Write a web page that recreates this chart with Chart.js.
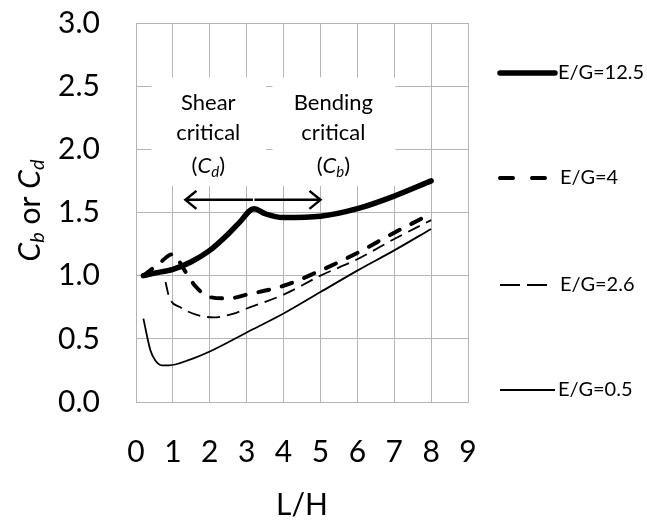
<!DOCTYPE html>
<html>
<head>
<meta charset="utf-8">
<script src="https://cdn.jsdelivr.net/npm/chart.js@4"></script>
<style>
  html, body { margin: 0; padding: 0; background: #fff; }
  #wrap { width: 647px; height: 522px; }
</style>
</head>
<body>
<div id="wrap"><canvas id="myChart" width="647" height="522"></canvas></div>
<script>
// L/H and C values, one pair of arrays per curve
var eg125X = [0.2, 0.5, 1.0, 1.5, 2.0, 2.5, 2.8, 3.2, 3.5, 4.0, 5.0, 6.0, 7.0, 8.0];
var eg125Y = [1.0, 1.02, 1.05, 1.11, 1.2, 1.33, 1.42, 1.53, 1.49, 1.46, 1.47, 1.53, 1.63, 1.75];
var eg4X = [0.2, 0.6, 1.0, 1.3, 1.6, 2.0, 2.5, 3.0, 4.0, 5.0, 6.0, 7.0, 8.0];
var eg4Y = [1.0, 1.09, 1.17, 1.05, 0.92, 0.83, 0.82, 0.85, 0.92, 1.04, 1.18, 1.34, 1.49];
var eg26X = [0.8, 0.9, 1.2, 1.65, 2.1, 2.65, 3.0, 4.0, 5.0, 6.0, 7.0, 8.0];
var eg26Y = [0.95, 0.83, 0.75, 0.69, 0.67, 0.70, 0.74, 0.85, 1.0, 1.13, 1.29, 1.44];
var eg05X = [0.2, 0.39, 0.52, 0.7, 0.9, 1.5, 2.0, 3.0, 4.0, 5.0, 6.0, 7.0, 8.0];
var eg05Y = [0.66, 0.41, 0.33, 0.29, 0.29, 0.34, 0.40, 0.55, 0.70, 0.87, 1.04, 1.20, 1.37];

var seriesNames = ['E/G=12.5', 'E/G=4', 'E/G=2.6', 'E/G=0.5'];
var xTicks = [0, 1, 2, 3, 4, 5, 6, 7, 8, 9];
var yTicks = [0, 0.5, 1.0, 1.5, 2.0, 2.5, 3.0];

var FONT = 'Lato, "Open Sans", sans-serif';

function pts(xs, ys) {
  return xs.map(function (x, i) { return { x: x, y: ys[i] }; });
}

// white boxes behind the two notes, then the text itself
var notesPlugin = {
  id: 'notes',
  beforeDatasetsDraw: function (chart) {
    var c = chart.ctx, sx = chart.scales.x, sy = chart.scales.y;
    c.save();
    c.fillStyle = '#fff';
    [[0.42, 3.53], [3.7, 7.03]].forEach(function (b) {
      var x0 = sx.getPixelForValue(b[0]), x1 = sx.getPixelForValue(b[1]);
      var y0 = sy.getPixelForValue(2.57), y1 = sy.getPixelForValue(1.71);
      c.fillRect(x0, y0, x1 - x0, y1 - y0);
    });
    c.fillStyle = '#000';
    c.textAlign = 'center';
    c.textBaseline = 'middle';
    var notes = [
      { x: 1.96, top: 'Shear', sub: 'd' },
      { x: 5.35, top: 'Bending', sub: 'b' }
    ];
    notes.forEach(function (n) {
      var px = sx.getPixelForValue(n.x);
      c.font = '22px ' + FONT;
      c.fillText(n.top, px, sy.getPixelForValue(2.37));
      c.fillText('critical', px, sy.getPixelForValue(2.13));
      drawCSub(c, px, sy.getPixelForValue(1.87), 22, n.sub, true);
    });
    c.restore();
  },
  afterDatasetsDraw: function (chart) {
    var c = chart.ctx, sx = chart.scales.x, sy = chart.scales.y;
    var ay = sy.getPixelForValue(1.6);
    c.save();
    c.strokeStyle = '#000';
    c.lineWidth = 2.5;
    arrow(c, sx.getPixelForValue(3.17), sx.getPixelForValue(1.34), ay);
    arrow(c, sx.getPixelForValue(3.21), sx.getPixelForValue(5.0), ay);
    c.restore();
  }
};

function arrow(c, from, to, y) {
  var d = to > from ? 1 : -1;
  c.beginPath();
  c.moveTo(from, y);
  c.lineTo(to, y);
  c.moveTo(to - d * 11, y - 9);
  c.lineTo(to, y);
  c.lineTo(to - d * 11, y + 9);
  c.stroke();
}

// draws "(C_sub)" centred on cx
function drawCSub(c, cx, cy, size, sub, paren) {
  var parts = [];
  if (paren) parts.push({ t: '(', f: size + 'px ' + FONT, dy: 0 });
  parts.push({ t: 'C', f: 'italic ' + size + 'px ' + FONT, dy: 0 });
  parts.push({ t: sub, f: 'italic ' + Math.round(size * 0.66) + 'px ' + FONT, dy: size * 0.28 });
  if (paren) parts.push({ t: ')', f: size + 'px ' + FONT, dy: 0 });
  var w = 0;
  parts.forEach(function (p) { c.font = p.f; p.w = c.measureText(p.t).width; w += p.w; });
  var x = cx - w / 2;
  c.textAlign = 'left';
  parts.forEach(function (p) { c.font = p.f; c.fillText(p.t, x, cy + p.dy); x += p.w; });
  c.textAlign = 'center';
}

// y title with subscripts, rotated
var yTitlePlugin = {
  id: 'ytitle',
  afterDraw: function (chart) {
    var c = chart.ctx, size = 30;
    var a = chart.chartArea;
    var parts = [
      { t: 'C', f: 'italic ' + size + 'px ' + FONT, dy: 0 },
      { t: 'b', f: 'italic 20px ' + FONT, dy: 8 },
      { t: ' or ', f: size + 'px ' + FONT, dy: 0 },
      { t: 'C', f: 'italic ' + size + 'px ' + FONT, dy: 0 },
      { t: 'd', f: 'italic 20px ' + FONT, dy: 8 }
    ];
    c.save();
    c.translate(30, (a.top + a.bottom) / 2 - 2);
    c.rotate(-Math.PI / 2);
    c.fillStyle = '#000';
    c.textBaseline = 'middle';
    c.textAlign = 'left';
    var w = 0;
    parts.forEach(function (p) { c.font = p.f; p.w = c.measureText(p.t).width; w += p.w; });
    var x = -w / 2;
    parts.forEach(function (p) { c.font = p.f; c.fillText(p.t, x, p.dy); x += p.w; });
    c.restore();
  }
};

// legend on the right, one entry per dataset, spread down the side
var legendPlugin = {
  id: 'sideLegend',
  afterDraw: function (chart) {
    var c = chart.ctx;
    var rows = [73, 178, 285, 390];
    c.save();
    chart.data.datasets.forEach(function (ds, i) {
      var y = rows[i];
      c.strokeStyle = ds.borderColor;
      c.lineWidth = ds.borderWidth;
      c.lineCap = ds.borderCapStyle || 'butt';
      c.setLineDash(ds.legendDash || []);
      c.beginPath();
      c.moveTo(ds.legendStart, y);
      c.lineTo(ds.legendEnd, y);
      c.stroke();
      c.setLineDash([]);
      c.fillStyle = '#000';
      c.font = '20px ' + FONT;
      c.textBaseline = 'middle';
      c.textAlign = 'left';
      c.fillText(ds.label, ds.legendEnd > 550 ? 558 : 560, y);
    });
    c.restore();
  }
};

document.addEventListener('DOMContentLoaded', function () {
  var ctx = document.getElementById('myChart').getContext('2d');
  var myChart = new Chart(ctx, {
    type: 'line',
    data: {
      datasets: [
        {
          label: seriesNames[0],
          data: pts(eg125X, eg125Y),
          borderColor: '#000',
          borderWidth: 5.5,
          borderCapStyle: 'round',
          legendStart: 500,
          legendEnd: 555
        },
        {
          label: seriesNames[1],
          data: pts(eg4X, eg4Y),
          borderColor: '#000',
          borderWidth: 4,
          borderDash: [11, 13],
          borderCapStyle: 'round',
          legendDash: [13, 19],
          legendStart: 500,
          legendEnd: 545
        },
        {
          label: seriesNames[2],
          data: pts(eg26X, eg26Y),
          borderColor: '#000',
          borderWidth: 1.8,
          borderDash: [13, 7],
          legendDash: [20, 7],
          legendStart: 500,
          legendEnd: 547
        },
        {
          label: seriesNames[3],
          data: pts(eg05X, eg05Y),
          borderColor: '#000',
          borderWidth: 1.8,
          legendStart: 500,
          legendEnd: 555
        }
      ]
    },
    options: {
      responsive: false,
      animation: false,
      elements: {
        point: { radius: 0 },
        line: { tension: 0.4, cubicInterpolationMode: 'monotone', fill: false }
      },
      layout: { padding: { left: 0, right: 179, top: 23, bottom: 0 } },
      plugins: {
        legend: { display: false },
        tooltip: { enabled: false }
      },
      scales: {
        x: {
          type: 'linear',
          min: 0,
          max: 9,
          afterBuildTicks: function (s) { s.ticks = xTicks.map(function (v) { return { value: v }; }); },
          afterFit: function (s) { s.height = 120; s.paddingLeft = 0; s.paddingRight = 0; },
          grid: { color: '#b4b4b4', lineWidth: 1, drawTicks: false },
          border: { color: '#b4b4b4' },
          ticks: { color: '#000', font: { family: FONT, size: 30 }, padding: 32, maxRotation: 0 },
          title: { display: true, text: 'L/H', color: '#000', font: { family: FONT, size: 30, lineHeight: 1 }, padding: { top: 0, bottom: 2 } }
        },
        y: {
          type: 'linear',
          min: 0,
          max: 3,
          afterBuildTicks: function (s) { s.ticks = yTicks.map(function (v) { return { value: v }; }); },
          afterFit: function (s) { s.width = 136; s.paddingTop = 0; s.paddingBottom = 0; },
          grid: { color: '#b4b4b4', lineWidth: 1, drawTicks: false },
          border: { color: '#b4b4b4' },
          ticks: {
            color: '#000',
            font: { family: FONT, size: 30 },
            padding: 36,
            callback: function (v) { return v.toFixed(1); }
          }
        }
      }
    },
    plugins: [notesPlugin, yTitlePlugin, legendPlugin]
  });
});
</script>
</body>
</html>
